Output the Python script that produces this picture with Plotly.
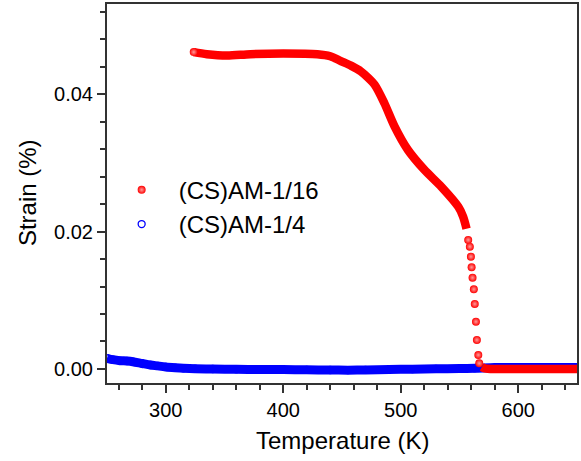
import plotly.graph_objects as go

# ---- data ----
red_name = "(CS)AM-1/16"
red_T = [323.8, 335, 352, 372, 400, 429, 440, 449, 458, 466, 472, 478, 486, 494.7, 506,
         520, 534.6, 549, 553, 556, 557.4, 558.8, 559.7, 560.3, 561.1, 562.2, 563, 564,
         564.8, 566, 566.8, 569, 571.6, 580, 600, 620, 650]
red_strain = [0.0461, 0.0458, 0.0456, 0.0458, 0.0459, 0.0458, 0.0455, 0.0448, 0.0441,
              0.0433, 0.0424, 0.0413, 0.0387, 0.0353, 0.0319, 0.0290, 0.0265, 0.0236,
              0.0222, 0.0204, 0.01877, 0.0178, 0.01634, 0.0148, 0.01328, 0.0116,
              0.00946, 0.00688, 0.00422, 0.00204, 0.00083, 0.0003, 0.0001, 0.0, 0.0,
              0.0, 0.0]

blue_name = "(CS)AM-1/4"
blue_T = [250, 255, 261, 267, 272, 280, 287, 293, 300, 308, 315, 325, 340, 360, 380, 400,
          420, 440, 455, 470, 490, 510, 530, 550, 563, 580, 600, 620, 650]
blue_strain = [0.00156, 0.00135, 0.00121, 0.00116, 0.00106, 0.00080, 0.00058, 0.00045,
               0.00030, 0.00018, 0.00010, 0.00003, 0.0, -0.00005, -0.00008, -0.00008,
               -0.00012, -0.00015, -0.00017, -0.00014, -0.00008, -0.00003, 0.00002,
               0.00006, 0.0001, 0.0002, 0.0002, 0.0002, 0.0002]

x_title = "Temperature (K)"
y_title = "Strain (%)"

FONT = "Liberation Sans, Arial, sans-serif"
RED = "#ff0000"
BLUE = "#0000ff"

# dense parts are drawn as a thick band; the isolated drop points as spheres
DROP_LO, DROP_HI = 557.0, 567.0
red_line_y = [None if (DROP_LO < t < DROP_HI) else s for t, s in zip(red_T, red_strain)]
keep = [(t < 330 or DROP_LO <= t <= DROP_HI) for t in red_T]
red_mark_T = [t for t, k in zip(red_T, keep) if k]
red_mark_S = [s for s, k in zip(red_strain, keep) if k]

fig = go.Figure()

# blue band + open circles (drawn first, under red)
fig.add_trace(go.Scatter(x=blue_T, y=blue_strain, mode="lines",
                         line=dict(color=BLUE, width=9, shape="spline", smoothing=0.8),
                         showlegend=False, hoverinfo="skip"))
fig.add_trace(go.Scatter(x=blue_T, y=blue_strain, mode="markers", name=blue_name,
                         legendrank=2,
                         marker=dict(symbol="circle-open", size=7, color=BLUE,
                                     line=dict(width=1.3, color=BLUE))))
# red band
fig.add_trace(go.Scatter(x=red_T, y=red_line_y, mode="lines", connectgaps=False,
                         line=dict(color=RED, width=8.5, shape="spline", smoothing=0.8),
                         showlegend=False, hoverinfo="skip"))
# red spheres
fig.add_trace(go.Scatter(x=red_mark_T, y=red_mark_S, mode="markers", name=red_name,
                         legendrank=1,
                         marker=dict(symbol="circle", size=8, color=RED,
                                     gradient=dict(type="radial", color="#ff9a9a"),
                                     line=dict(width=0))))

axis_common = dict(
    showline=True, linecolor="#333333", linewidth=2, mirror=True,
    ticks="outside", ticklen=8, tickwidth=1.5, tickcolor="#333333",
    showgrid=False, zeroline=False, automargin=False,
    tickfont=dict(family=FONT, size=20, color="#000000"),
)

fig.update_layout(
    width=581, height=461,
    margin=dict(l=107, r=4, t=4, b=78),
    paper_bgcolor="white", plot_bgcolor="white",
    font=dict(family=FONT, color="#000000"),
    xaxis=dict(range=[250, 650], dtick=100, tick0=0,
               minor=dict(dtick=20, tick0=0, ticks="outside", ticklen=5,
                          tickwidth=1.5, tickcolor="#333333"),
               **axis_common),
    yaxis=dict(range=[-0.00204, 0.0531], dtick=0.02, tick0=0, tickformat=".2f",
               minor=dict(dtick=0.004, tick0=0, ticks="outside", ticklen=5,
                          tickwidth=1.5, tickcolor="#333333"),
               **axis_common),
    legend=dict(x=-0.005, xanchor="left", y=0.568, yanchor="top",
                bgcolor="rgba(0,0,0,0)", itemwidth=64, tracegroupgap=0,
                font=dict(family=FONT, size=24, color="#000000")),
    annotations=[
        dict(text=x_title, xref="paper", yref="paper", x=0.5006, y=-0.1504,
             xanchor="center", yanchor="middle", showarrow=False,
             font=dict(family=FONT, size=24, color="#000000")),
        dict(text=y_title, xref="paper", yref="paper", x=-0.170, y=0.5013,
             xanchor="center", yanchor="middle", showarrow=False, textangle=-90,
             font=dict(family=FONT, size=24, color="#000000")),
    ],
)

fig.write_html("out.html", config={"displayModeBar": False},
               post_script="document.body.style.margin='0';document.body.style.padding='0';")
